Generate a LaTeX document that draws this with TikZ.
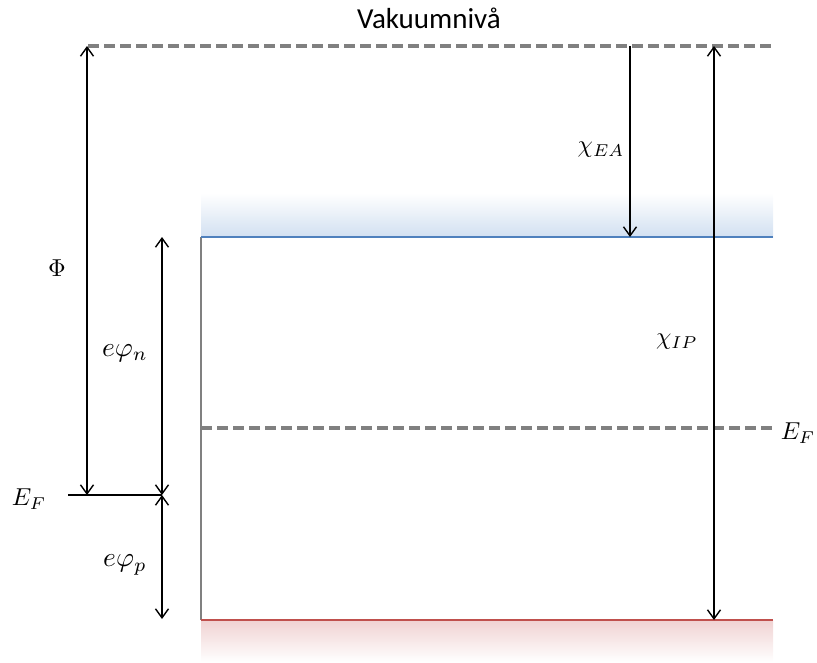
\documentclass[tikz,border=0pt]{standalone}
\usepackage{fontspec}
\setsansfont{Carlito}
\usetikzlibrary{arrows.meta}
\definecolor{cbblue}{RGB}{79,129,189}
\definecolor{vbred}{RGB}{192,80,77}
\definecolor{lvlgray}{RGB}{128,128,128}
\definecolor{bluefade}{RGB}{210,224,241}
\definecolor{redfade}{RGB}{240,210,210}
\begin{document}
\begin{tikzpicture}[x=1pt,y=-1pt,
  tip/.tip={Straight Barb[length=9pt,width=13pt]},
  dim/.style={line width=1.4pt,tip-tip},
  dimdown/.style={line width=1.4pt,-tip},
  levelgray/.style={lvlgray,line width=3.6pt,dash pattern=on 11pt off 5pt},
  lbl/.style={scale=2.45,inner sep=0pt},
  lblbig/.style={scale=2.75,inner sep=0pt}]
\useasboundingbox (0,0) rectangle (817,662);
% gradients
\shade[top color=white,bottom color=bluefade] (201,193) rectangle (773,237);
\shade[top color=redfade,bottom color=white] (201,620) rectangle (773,662);
% coordinates
\coordinate (vacL) at (88,46);
\coordinate (vacR) at (775,46);
\coordinate (cbL) at (201,237);
\coordinate (cbR) at (773,237);
\coordinate (vbL) at (201,620);
\coordinate (vbR) at (773,620);
\coordinate (efL) at (201,428);
\coordinate (efR) at (773,428);
\coordinate (efsL) at (68,495);
\coordinate (efsR) at (162,495);
\coordinate (phiTop) at (87,46);
\coordinate (phiBot) at (87,495);
\coordinate (eaTop) at (630,46);
\coordinate (eaBot) at (630,237);
\coordinate (ipTop) at (714,46);
\coordinate (ipBot) at (714,620);
\coordinate (nTop) at (162,237);
\coordinate (pBot) at (162,619);
% levels
\draw[levelgray] (vacL) -- (vacR);
\draw[levelgray] (efL) -- (efR);
\draw[lvlgray,line width=2pt] (cbL) -- (vbL);
\draw[cbblue,line width=2pt] (cbL) -- (cbR);
\draw[vbred,line width=2.2pt] (vbL) -- (vbR);
\draw[line width=2pt] (efsL) -- (efsR);
% dimension arrows
\draw[dim] (phiTop) -- (phiBot);
\draw[dim] (nTop) -- (efsR);
\draw[dim] (efsR) -- (pBot);
\draw[dimdown] (eaTop) -- (eaBot);
\draw[dim] (ipTop) -- (ipBot);
% labels
\node[font=\sffamily\fontsize{29}{34}\selectfont,inner sep=0pt,anchor=base] (vak) at (429,28) {Vakuumnivå};
\node[lbl] (phi) at (57,268) {$\Phi$};
\node[lbl] (chiea) at (601,150) {$\chi_{EA}$};
\node[lbl] (chiip) at (677,342) {$\chi_{IP}$};
\node[lblbig] (en) at (125,353) {$e\varphi_n$};
\node[lblbig] (ep) at (125,565) {$e\varphi_p$};
\node[lbl] (efr) at (798,433) {$E_F$};
\node[lbl] (efl) at (29,499) {$E_F$};
\end{tikzpicture}
\end{document}
